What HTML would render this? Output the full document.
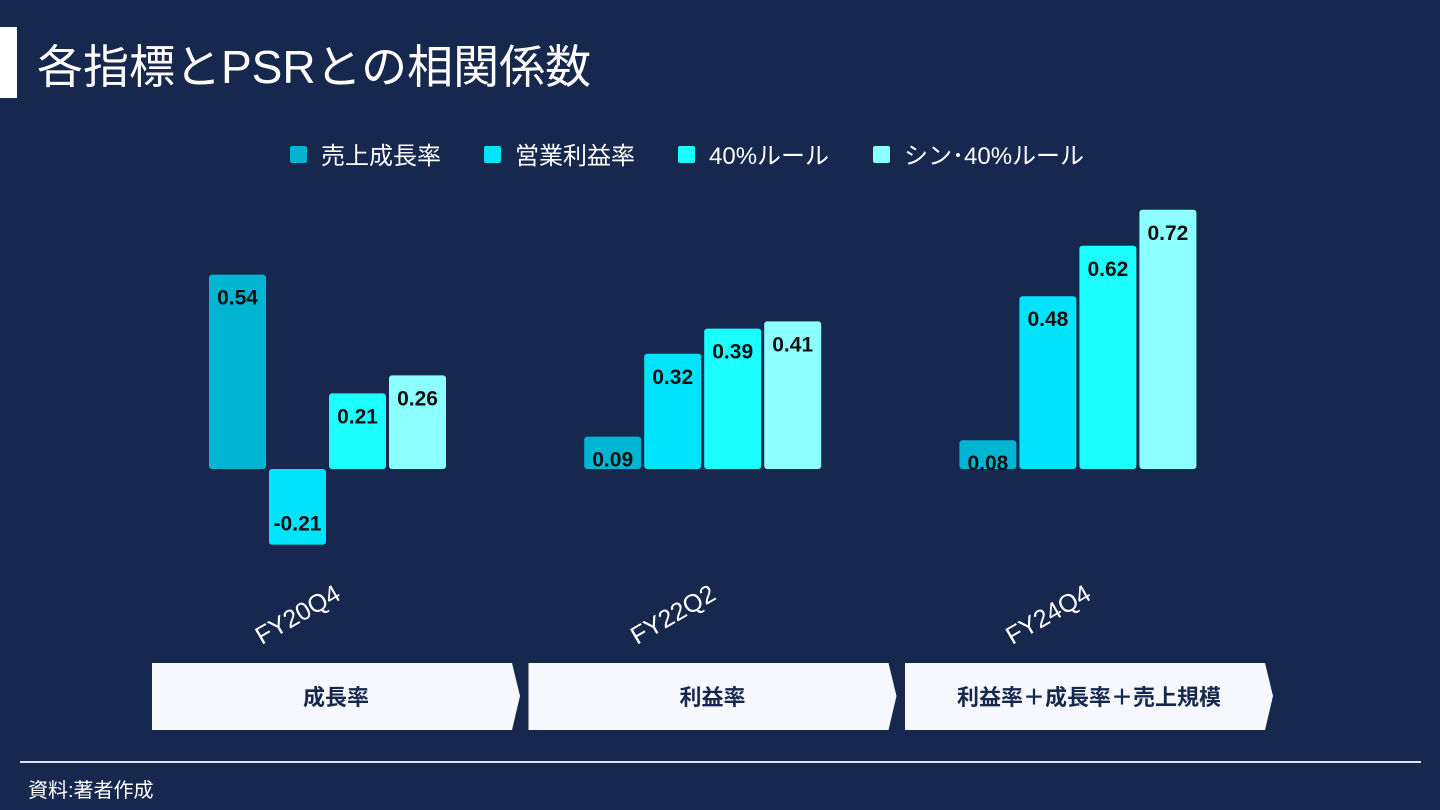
<!DOCTYPE html>
<html><head><meta charset="utf-8"><style>
body{margin:0;width:1440px;height:810px;background:#16284d;overflow:hidden;font-family:"Liberation Sans","Noto Sans CJK JP",sans-serif;position:relative}
.abs{position:absolute}
</style></head><body>
<div class="abs" style="left:0;top:27px;width:17px;height:71px;background:#fff"></div>
<div class="abs" style="left:37px;top:40px;font-size:46px;letter-spacing:0px;color:#fff;line-height:54px">各指標とPSRとの相関係数</div>
<svg class="abs" style="left:0;top:0" width="1440" height="810" id="chart"></svg>
<div class="abs" style="left:20px;top:761px;width:1401px;height:2px;background:#dfe4ee"></div>
<div class="abs" style="left:28px;top:774px;font-size:20px;color:#fff">資料:著者作成</div>
<script>
const categories=["FY20Q4","FY22Q2","FY24Q4"];
const seriesNames=["売上成長率","営業利益率","40%ルール","シン･40%ルール"];
const s1=[0.54,0.09,0.08];
const s2=[-0.21,0.32,0.48];
const s3=[0.21,0.39,0.62];
const s4=[0.26,0.41,0.72];
const phases=["成長率","利益率","利益率＋成長率＋売上規模"];
const series=[s1,s2,s3,s4];
const colors=["#00b5d1","#00e4fb","#1afffd","#8cffff"];
const NS="http://www.w3.org/2000/svg";
const svg=document.getElementById('chart');
const zeroY=469, pxPerUnit=360;
const y=v=>zeroY-v*pxPerUnit;
const groupX=i=>327.5+i*375.2;
const barW=57, step=60;
function mk(t,a){const e=document.createElementNS(NS,t);for(const k in a)e.setAttribute(k,a[k]);svg.appendChild(e);return e;}
const legX=[290,484,678,873];
seriesNames.forEach((n,k)=>{
 const r=mk('rect',{x:legX[k],y:146,width:17,height:17,rx:2,fill:colors[k]});
 
 
 const t=mk('text',{x:legX[k]+31,y:164,fill:'#fff','font-size':24});
 t.textContent=n;
 
 
});
categories.forEach((c,i)=>{
 series.forEach((s,k)=>{
  const v=s[i];
  const x=groupX(i)-2*step+k*step+1.5;
  const top=Math.min(y(v),zeroY), h=Math.abs(y(v)-zeroY);
  const r=mk('rect',{x:x,y:top,width:barW,height:h,rx:3,fill:colors[k]});
  
  
  const ty=v>=0?top+30:top+h-14;
  const t=mk('text',{x:x+barW/2,y:ty,'text-anchor':'middle','font-size':21,'font-weight':'bold',fill:'#111'});
  t.textContent=v.toFixed(2);
  
  
 });
 const cx=groupX(i)-30;
 const t=mk('text',{x:cx,y:623,'text-anchor':'middle','font-size':25,fill:'#fff',transform:`rotate(-30 ${cx} 614)`});
 t.textContent=c;
 
 
 const x0=152+i*376.5, w=360;
 const p=mk('polygon',{points:`${x0},663 ${x0+w},663 ${x0+w+8},696 ${x0+w},730 ${x0},730`,fill:'#f6f8fd'});
 
 
 const pt=mk('text',{x:x0+w/2+4,y:705,'text-anchor':'middle','font-size':22,'font-weight':'bold',fill:'#16284d'});
 pt.textContent=phases[i];
 
 
});
</script>
</body></html>
